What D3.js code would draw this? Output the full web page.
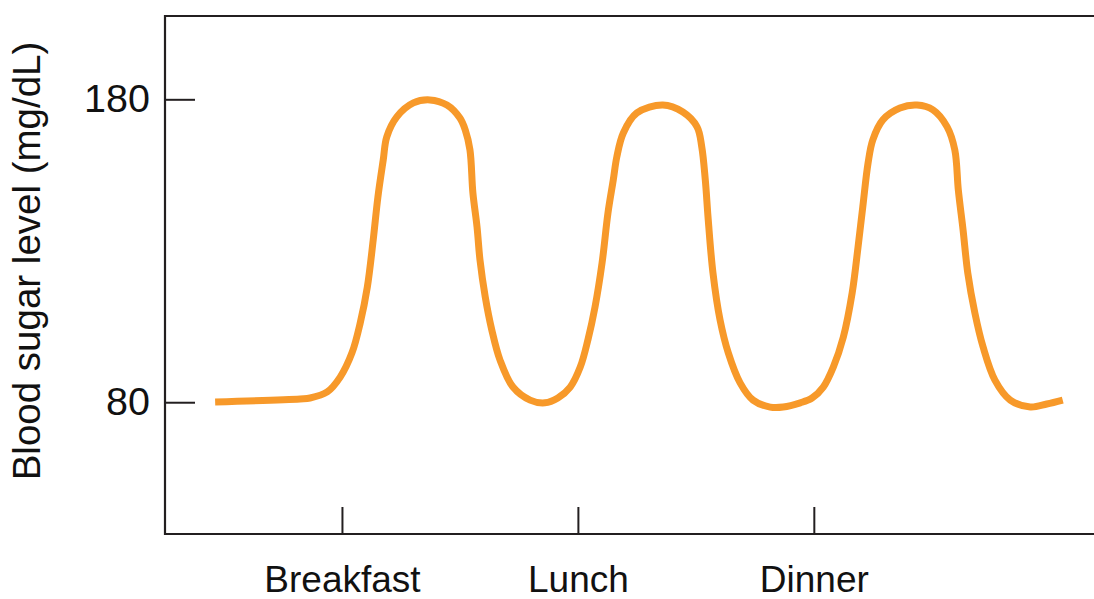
<!DOCTYPE html>
<html>
<head>
<meta charset="utf-8">
<script src="https://cdn.jsdelivr.net/npm/d3@7"></script>
<style>
  html, body { margin: 0; padding: 0; background: #ffffff; }
  svg { display: block; font-family: "Liberation Sans", Arial, sans-serif; }
</style>
</head>
<body>
<svg id="chart" width="1094" height="599"></svg>
<script>
// ---- Data ----
const hours = [5.85, 7.29, 7.46, 7.75, 7.97, 8.17, 8.31, 8.43, 8.53, 8.61, 8.70, 8.76, 8.93, 9.21, 9.49, 9.78, 10.00, 10.09, 10.17, 10.22, 10.29, 10.34, 10.43, 10.54, 10.68, 10.90, 11.19, 11.44, 11.66, 11.87, 12.04, 12.17, 12.29, 12.41, 12.51, 12.60, 12.66, 12.77, 13.00, 13.44, 13.78, 14.02, 14.10, 14.16, 14.21, 14.29, 14.41, 14.55, 14.75, 14.97, 15.26, 15.48, 15.77, 15.97, 16.16, 16.33, 16.50, 16.65, 16.75, 16.83, 16.92, 17.00, 17.17, 17.46, 17.75, 18.02, 18.26, 18.39, 18.45, 18.53, 18.61, 18.73, 18.87, 19.07, 19.33, 19.67, 19.95, 20.22];
const glucose = [80.1, 81.1, 81.4, 83.4, 88.3, 96.3, 106.2, 118.0, 133.6, 147.8, 160.0, 167.6, 174.2, 178.8, 179.8, 178.1, 173.8, 169.9, 163.3, 149.1, 137.9, 127.0, 114.7, 103.9, 93.9, 85.0, 80.7, 79.8, 81.4, 85.0, 91.6, 100.6, 111.4, 126.0, 142.5, 153.4, 161.0, 168.9, 175.5, 178.1, 175.8, 170.9, 164.3, 153.4, 140.2, 122.7, 107.2, 96.3, 86.4, 80.7, 78.4, 78.4, 79.8, 81.4, 85.0, 91.6, 101.5, 116.1, 131.3, 144.5, 159.0, 166.6, 173.2, 177.1, 178.1, 176.5, 170.9, 163.3, 150.0, 136.9, 122.7, 109.5, 98.2, 87.3, 80.7, 78.4, 79.4, 80.7];
const mealHours = [8, 12, 16];
const mealLabels = ["Breakfast", "Lunch", "Dinner"];
const yTickValues = [80, 180];
const yTitle = "Blood sugar level (mg/dL)";

// ---- Layout ----
const svg = d3.select("#chart");
const mLeft = 165, mRight = 1094, mTop = 16, mBottom = 534;
const x = d3.scaleLinear().domain([5, 20.75]).range([mLeft, mRight]);
const y = d3.scaleLinear().domain([36.5, 207.5]).range([mBottom, mTop]);
const axisColor = "#231f20";

// Frame (left, top, bottom; open on the right)
svg.append("path")
  .attr("d", `M${mRight},${mTop}H${mLeft}V${mBottom}H${mRight}`)
  .attr("fill", "none")
  .attr("stroke", axisColor)
  .attr("stroke-width", 2.2);

// Y axis (ticks pointing inward)
const yAxis = svg.append("g")
  .attr("transform", `translate(${mLeft},0)`)
  .call(d3.axisLeft(y).tickValues(yTickValues).tickSize(-30).tickPadding(15).tickFormat(d3.format("d")));
yAxis.select(".domain").remove();
yAxis.selectAll(".tick line").attr("stroke", axisColor).attr("stroke-width", 2);
yAxis.selectAll(".tick text")
  .attr("fill", "#111")
  .attr("font-size", 39.5)
  .attr("font-family", '"Liberation Sans", Arial, sans-serif');

// X axis (ticks pointing inward)
const xAxis = svg.append("g")
  .attr("transform", `translate(0,${mBottom})`)
  .call(d3.axisBottom(x).tickValues(mealHours).tickSize(-27).tickPadding(32)
    .tickFormat((d, i) => mealLabels[i]));
xAxis.select(".domain").remove();
xAxis.selectAll(".tick line").attr("stroke", axisColor).attr("stroke-width", 2);
xAxis.selectAll(".tick text")
  .attr("fill", "#111")
  .attr("font-size", 37)
  .attr("font-family", '"Liberation Sans", Arial, sans-serif');

// Y axis title
svg.append("text")
  .attr("transform", `translate(40,261) rotate(-90)`)
  .attr("text-anchor", "middle")
  .attr("font-size", 38.5)
  .attr("fill", "#111")
  .text(yTitle);

// Curve
const pts = hours.map((h, i) => [h, glucose[i]]);
const line = d3.line()
  .x(d => x(d[0]))
  .y(d => y(d[1]))
  .curve(d3.curveCatmullRom.alpha(0.5));

svg.append("path")
  .datum(pts)
  .attr("d", line)
  .attr("fill", "none")
  .attr("stroke", "#f7992a")
  .attr("stroke-width", 7)
  .attr("stroke-linejoin", "round")
  .attr("stroke-linecap", "butt");
</script>
</body>
</html>
